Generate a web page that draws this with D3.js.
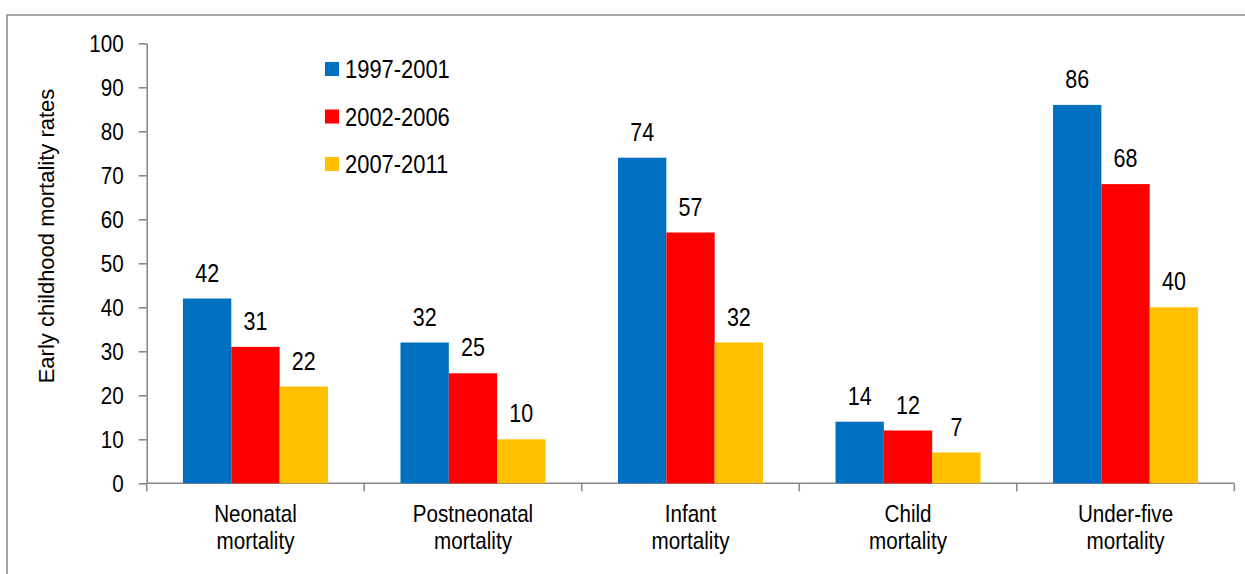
<!DOCTYPE html>
<html>
<head>
<meta charset="utf-8">
<script src="https://cdn.jsdelivr.net/npm/d3@7"></script>
<style>
  html, body { margin: 0; padding: 0; background: #fff; overflow: hidden; }
  svg text { font-family: "Liberation Sans", Arial, Helvetica, sans-serif; fill: #000; }
</style>
</head>
<body>
<svg id="chart" width="1245" height="574"></svg>
<script>
// Early childhood mortality rates by five-year period
const categories = [["Neonatal", "mortality"], ["Postneonatal", "mortality"], ["Infant", "mortality"], ["Child", "mortality"], ["Under-five", "mortality"]];
const periods = ["1997-2001", "2002-2006", "2007-2011"];
const values1997 = [42, 32, 74, 14, 86];
const values2002 = [31, 25, 57, 12, 68];
const values2007 = [22, 10, 32, 7, 40];
const colors = ["#0070C0", "#FF0000", "#FFC000"];
const yTicks = [0, 10, 20, 30, 40, 50, 60, 70, 80, 90, 100];
const yTitle = "Early childhood mortality rates";

const series = [values1997, values2002, values2007];
const catKeys = categories.map(c => c.join(" "));
const SX = 0.86; // horizontal text condensing

const svg = d3.select("#chart");

// outer frame
svg.append("rect")
  .attr("x", 7).attr("y", 15)
  .attr("width", 1260).attr("height", 600)
  .attr("fill", "none").attr("stroke", "#8f8f8f").attr("stroke-width", 1.6);

const plotLeft = 146.7, plotRight = 1234.3, plotTop = 43.3, plotBottom = 483.3;

const y = d3.scaleLinear().domain([0, 100]).range([plotBottom, plotTop]);
const x0 = d3.scaleBand().domain(catKeys).range([plotLeft, plotRight]).paddingInner(0).paddingOuter(0);
const x1 = d3.scaleBand().domain(periods).range([0, x0.bandwidth()]).paddingInner(0).paddingOuter(0.75);

const axisColor = "#8a8a8a";

// y axis
const yAxis = svg.append("g")
  .attr("transform", `translate(${plotLeft},0)`)
  .call(d3.axisLeft(y).tickValues(yTicks).tickSize(8).tickSizeOuter(0).tickPadding(15));
yAxis.select(".domain").attr("stroke", axisColor).attr("stroke-width", 1.6);
yAxis.selectAll(".tick line").attr("stroke", axisColor).attr("stroke-width", 1.6);
yAxis.selectAll(".tick text")
  .attr("font-size", 24)
  .attr("font-family", null)
  .each(function () {
    const t = d3.select(this);
    const xx = +t.attr("x");
    t.attr("x", 0).attr("dy", "0.35em")
      .attr("transform", `translate(${xx},0) scale(${SX},1)`);
  });

// x axis baseline with category separators
const xAxis = svg.append("g");
xAxis.append("line")
  .attr("x1", plotLeft).attr("x2", plotRight)
  .attr("y1", y(0)).attr("y2", y(0))
  .attr("stroke", axisColor).attr("stroke-width", 1.6);
const bounds = catKeys.map(k => x0(k)).concat([x0(catKeys[catKeys.length - 1]) + x0.bandwidth()]);
xAxis.selectAll("line.sep").data(bounds).join("line")
  .attr("class", "sep")
  .attr("x1", d => d).attr("x2", d => d)
  .attr("y1", y(0)).attr("y2", y(0) + 8)
  .attr("stroke", axisColor).attr("stroke-width", 1.6);

// category labels
const catG = svg.append("g");
categories.forEach((lines, i) => {
  const cx = x0(catKeys[i]) + x0.bandwidth() / 2;
  lines.forEach((ln, j) => {
    catG.append("text")
      .attr("text-anchor", "middle")
      .attr("font-size", 24)
      .attr("transform", `translate(${cx},${522 + j * 27}) scale(${SX},1)`)
      .text(ln);
  });
});

// bars
const groups = svg.append("g").selectAll("g")
  .data(catKeys).join("g")
  .attr("transform", d => `translate(${x0(d)},0)`);

groups.selectAll("rect")
  .data((d, i) => periods.map((p, s) => ({ p, s, v: series[s][i] })))
  .join("rect")
  .attr("x", d => x1(d.p))
  .attr("width", x1.bandwidth())
  .attr("y", d => y(d.v))
  .attr("height", d => y(0) - y(d.v))
  .attr("fill", d => colors[d.s]);

// value labels
groups.selectAll("text")
  .data((d, i) => periods.map((p, s) => ({ p, s, v: series[s][i] })))
  .join("text")
  .attr("text-anchor", "middle")
  .attr("font-size", 25)
  .attr("transform", d => `translate(${x1(d.p) + x1.bandwidth() / 2},${y(d.v) - 17}) scale(${SX},1)`)
  .text(d => d.v);

// y axis title
svg.append("text")
  .attr("text-anchor", "middle")
  .attr("font-size", 22)
  .attr("transform", `translate(54,236) rotate(-90)`)
  .text(yTitle);

// legend
const legend = svg.append("g").attr("transform", "translate(325,62)");
periods.forEach((p, i) => {
  const g = legend.append("g").attr("transform", `translate(0,${i * 47.5})`);
  g.append("rect").attr("width", 14).attr("height", 14).attr("fill", colors[i]);
  g.append("text")
    .attr("font-size", 25.5)
    .attr("transform", `translate(20,16) scale(${SX},1)`)
    .text(p);
});
</script>
</body>
</html>
